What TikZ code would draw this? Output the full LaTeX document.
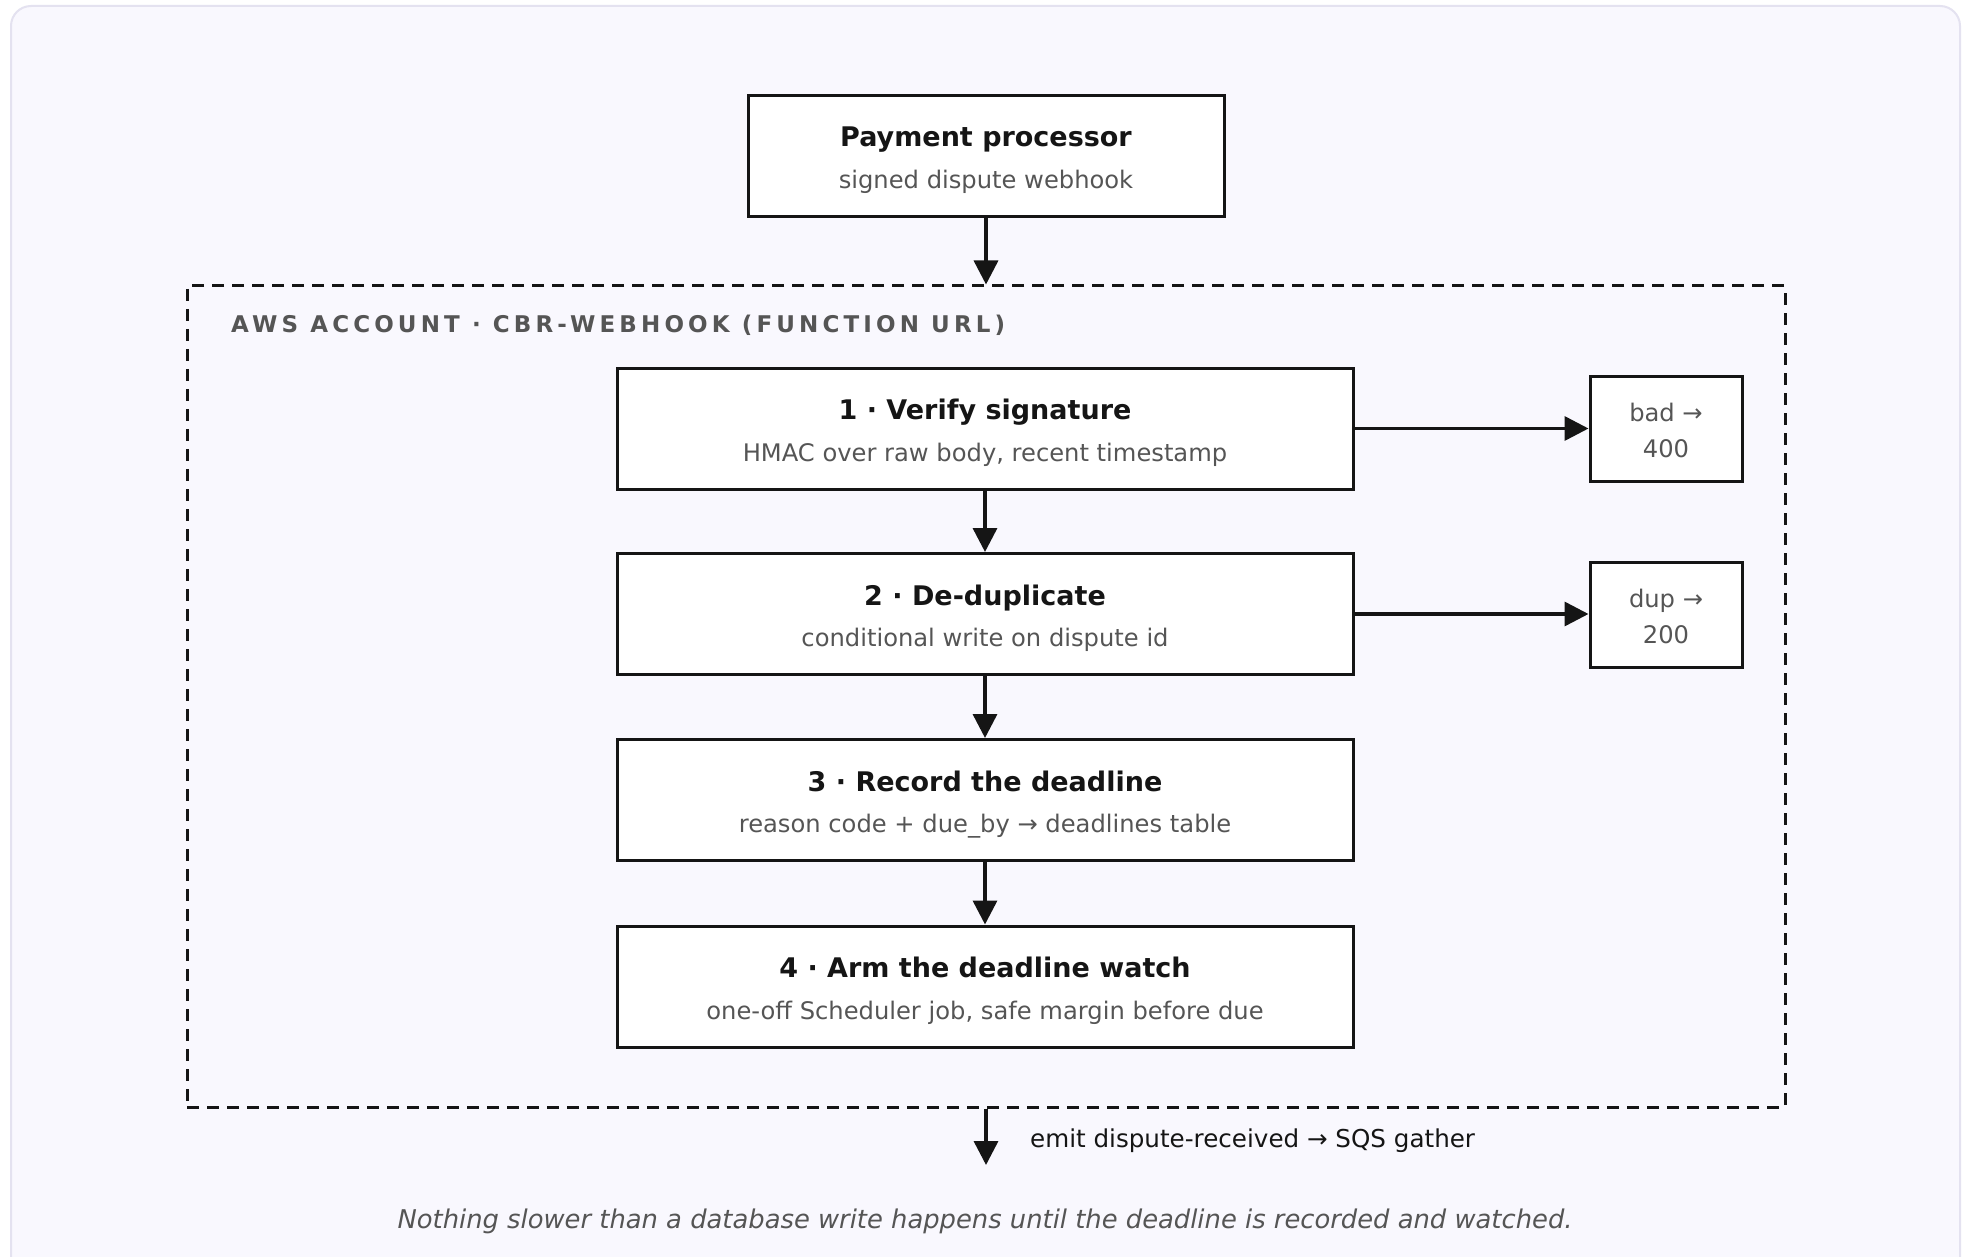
\documentclass[tikz,border=0pt]{standalone}
\usepackage{fontspec}
\setmainfont{DejaVu Sans}
\usetikzlibrary{arrows.meta}

\definecolor{ink}{HTML}{151515}
\definecolor{muted}{HTML}{555555}
\definecolor{panel}{HTML}{F9F8FE}
\definecolor{panelline}{HTML}{E4E2F0}

\newcommand\pxfont[1]{\fontsize{#1}{#1}\selectfont}

\begin{document}
\begin{tikzpicture}[x=1pt,y=-1pt,
  box/.style={draw=ink, line width=3pt, fill=white, inner sep=0pt},
  stepbox/.style={box, minimum width=736pt, minimum height=121pt},
  sidebox/.style={box, minimum width=152pt, minimum height=105pt},
  title/.style={font=\pxfont{27}\bfseries, text=ink, anchor=base, inner sep=0pt},
  sub/.style={font=\pxfont{24.2}, text=muted, anchor=base, inner sep=0pt},
  flow/.style={draw=ink, line width=3.5pt, -{Triangle[length=24pt,width=24pt]}},
]
\useasboundingbox (0,0) rectangle (1968,1257);
\clip (0,0) rectangle (1968,1257);
\fill[white] (0,0) rectangle (1968,1257);

% card behind the diagram
\draw[panelline, fill=panel, line width=2pt, rounded corners=20pt] (11,6) rectangle (1960,1300);

% webhook source
\node[box, minimum width=476pt, minimum height=121pt] (pp) at (986,156.5) {};
\node[title, yshift=9.5pt] (ppT) at (pp.center) {Payment processor};
\node[sub, yshift=-32.5pt] (ppS) at (pp.center) {signed dispute webhook};

% account boundary
\node[draw=ink, line width=3pt, dash pattern=on 12pt off 8pt, inner sep=0pt,
      minimum width=1598pt, minimum height=821pt] (aws) at (986,696.5) {};
\node[font=\pxfont{23}\bfseries\addfontfeature{LetterSpace=18}, text=muted,
      anchor=base west, inner sep=0pt] (awsL) at (231,333)
      {AWS ACCOUNT · CBR-WEBHOOK (FUNCTION URL)};

% handler steps
\node[stepbox] (s1) at (985,428.5) {};
\node[title, yshift=9pt] (s1T) at (s1.center) {1 · Verify signature};
\node[sub, yshift=-32.5pt] (s1S) at (s1.center) {HMAC over raw body, recent timestamp};

\node[stepbox] (s2) at (985,614) {};
\node[title, yshift=9pt] (s2T) at (s2.center) {2 · De-duplicate};
\node[sub, yshift=-32.5pt] (s2S) at (s2.center) {conditional write on dispute id};

\node[stepbox] (s3) at (985,800) {};
\node[title, yshift=9pt] (s3T) at (s3.center) {3 · Record the deadline};
\node[sub, yshift=-32.5pt] (s3S) at (s3.center) {reason code + due\_by → deadlines table};

\node[stepbox] (s4) at (985,986.5) {};
\node[title, yshift=9pt] (s4T) at (s4.center) {4 · Arm the deadline watch};
\node[sub, yshift=-32.5pt] (s4S) at (s4.center) {one-off Scheduler job, safe margin before due};

% early exits
\node[sidebox] (bad) at (1666,428.5) {};
\node[sub, yshift=7.5pt] (badT) at (bad.center) {bad →};
\node[sub, yshift=-29pt] (badC) at (bad.center) {400};

\node[sidebox] (dup) at (1666,614.5) {};
\node[sub, yshift=7.5pt] (dupT) at (dup.center) {dup →};
\node[sub, yshift=-29pt] (dupC) at (dup.center) {200};

% connectors
\draw[flow] (pp.south) -- (aws.north);
\draw[flow] (s1.south) -- (s2.north);
\draw[flow] (s2.south) -- (s3.north);
\draw[flow] (s3.south) -- (s4.north);
\draw[flow] (s1.east) -- (bad.west);
\draw[flow] (s2.east) -- (s2.east -| dup.west);

\coordinate (emitEnd) at (986,1165);
\draw[flow] (aws.south) -- (emitEnd);
\node[font=\pxfont{24.6}, text=ink, anchor=base west, inner sep=0pt] (emitT) at (1030,1147)
  {emit dispute-received → SQS gather};

\node[font=\pxfont{25.8}\itshape, text=muted, anchor=base, inner sep=0pt] (cap) at (985,1228)
  {Nothing slower than a database write happens until the deadline is recorded and watched.};
\end{tikzpicture}
\end{document}
